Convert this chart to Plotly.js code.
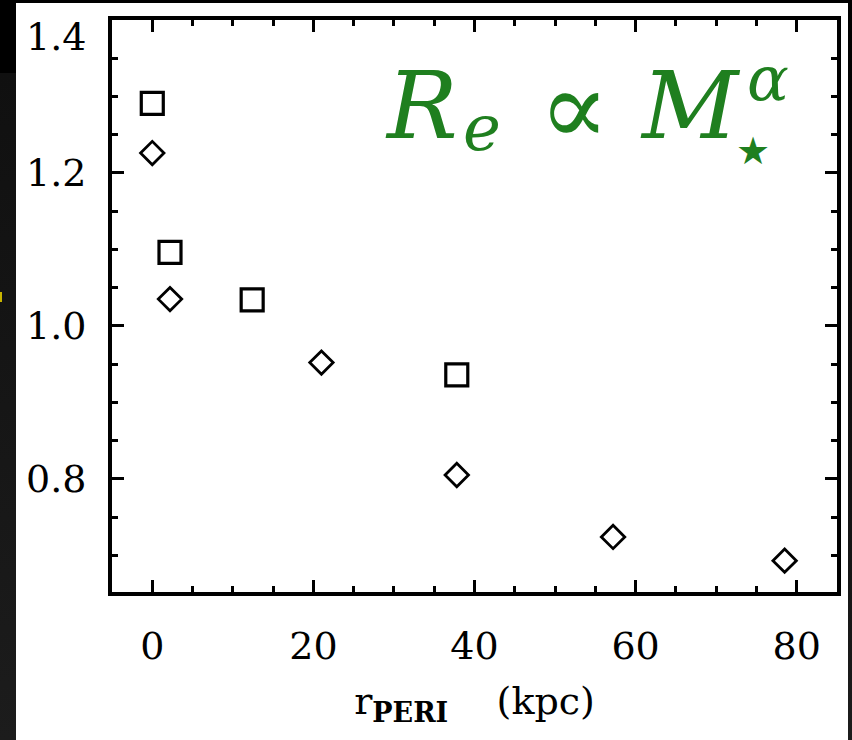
<!DOCTYPE html>
<html>
<head>
<meta charset="utf-8">
<script src="https://cdn.plot.ly/plotly-3.0.1.min.js"></script>
<style>
  html, body { margin: 0; padding: 0; background: #000; width: 852px; height: 740px; overflow: hidden; }
  #left { position: absolute; left: 0; top: 0; width: 16px; height: 740px;
          background: linear-gradient(to bottom, #000 0px, #000 73px, #101010 73px, #1c1c1c 740px); }
  #right { position: absolute; left: 848px; top: 0; width: 4px; height: 740px;
           background: linear-gradient(to bottom, #000 0px, #1c1c1c 740px); }
  #mark { position: absolute; left: 0; top: 292px; width: 2px; height: 10px; background: #c8b400; }
  #plot { position: absolute; left: 16px; top: 3px; width: 832px; height: 737px; }
</style>
</head>
<body>
<div id="left"></div>
<div id="right"></div>
<div id="mark"></div>
<div id="plot"></div>
<script>
// Data
var squareX = [0, 2.2, 12.4, 37.8];
var squareY = [1.291, 1.096, 1.034, 0.936];
var diamondX = [0, 2.2, 21.0, 37.8, 57.2, 78.5];
var diamondY = [1.226, 1.035, 0.952, 0.805, 0.724, 0.693];
var xTickVals = [0, 20, 40, 60, 80];
var xTickText = ['0', '20', '40', '60', '80'];
var yTickVals = [0.8, 1.0, 1.2];
var yTickText = ['0.8', '1.0', '1.2'];
var yTopTickVals = [1.4];
var yTopTickText = ['1.4'];

var green = '#1f7f1f';
var serif = 'DejaVu Serif';
var yRange = [0.652, 1.4000001];

var traces = [
  {
    x: squareX, y: squareY, type: 'scatter', mode: 'markers',
    marker: { symbol: 'square-open', size: 22, color: '#000', line: { width: 3.2, color: '#000' } },
    hoverinfo: 'skip', showlegend: false
  },
  {
    x: diamondX, y: diamondY, type: 'scatter', mode: 'markers', yaxis: 'y2',
    marker: { symbol: 'diamond-open', size: 18, color: '#000', line: { width: 2.8, color: '#000' } },
    hoverinfo: 'skip', showlegend: false
  }
];

var axisCommon = {
  showline: true, linecolor: '#000', linewidth: 4,
  ticks: 'inside', tickcolor: '#000', tickwidth: 3, ticklen: 12,
  showgrid: false, zeroline: false, ticklabeloverflow: 'allow',
  tickfont: { family: serif, size: 38, color: '#000' }
};

var layout = {
  width: 832, height: 737,
  margin: { l: 96, r: 11, t: 17, b: 148 },
  paper_bgcolor: '#fff', plot_bgcolor: '#fff',
  showlegend: false,
  xaxis: Object.assign({}, axisCommon, {
    mirror: 'ticks',
    range: [-5, 85],
    tickmode: 'array', tickvals: xTickVals, ticktext: xTickText,
    minor: { dtick: 5, tick0: 0, ticks: 'inside', ticklen: 6, tickwidth: 3, tickcolor: '#000', showgrid: false },
    ticklabelstandoff: 17,
    title: {
      text: 'r<sub><b><span style="font-size:27px">PERI</span></b></sub>\u00a0\u00a0\u00a0\u00a0(kpc)',
      font: { family: serif, size: 38, color: '#000' }, standoff: 22
    }
  }),
  yaxis: Object.assign({}, axisCommon, {
    mirror: 'ticks',
    range: yRange,
    tickmode: 'array', tickvals: yTickVals, ticktext: yTickText,
    minor: { dtick: 0.05, tick0: 0.8, ticks: 'inside', ticklen: 6, tickwidth: 3, tickcolor: '#000', showgrid: false },
    ticklabelstandoff: 14
  }),
  yaxis2: Object.assign({}, axisCommon, {
    overlaying: 'y', matches: 'y', side: 'left', mirror: false,
    range: yRange,
    tickmode: 'array', tickvals: yTopTickVals, ticktext: yTopTickText,
    ticklabelstandoff: 14, ticklabelshift: 17
  }),
  annotations: [
    { xref: 'paper', yref: 'paper', x: 0.3738, y: 0.8505, xanchor: 'left', yanchor: 'middle', showarrow: false,
      text: '<i>R</i>', font: { family: serif, size: 94, color: green } },
    { xref: 'paper', yref: 'paper', x: 0.481, y: 0.811, xanchor: 'left', yanchor: 'middle', showarrow: false,
      text: '<i>e</i>', font: { family: serif, size: 64, color: green } },
    { xref: 'paper', yref: 'paper', x: 0.6366, y: 0.846, xanchor: 'center', yanchor: 'middle', showarrow: false,
      text: '∝', font: { family: serif, size: 104, color: green } },
    { xref: 'paper', yref: 'paper', x: 0.7255, y: 0.8505, xanchor: 'left', yanchor: 'middle', showarrow: false,
      text: '<i>M</i>', font: { family: serif, size: 94, color: green } },
    { xref: 'paper', yref: 'paper', x: 0.873, y: 0.8977, xanchor: 'left', yanchor: 'middle', showarrow: false,
      text: '<i>α</i>', font: { family: serif, size: 62, color: green } },
    { xref: 'paper', yref: 'paper', x: 0.8835, y: 0.771, xanchor: 'center', yanchor: 'middle', showarrow: false,
      text: '★', font: { family: 'DejaVu Sans', size: 38, color: green } }
  ]
};

Plotly.newPlot('plot', traces, layout, { staticPlot: true, displayModeBar: false });
</script>
</body>
</html>
